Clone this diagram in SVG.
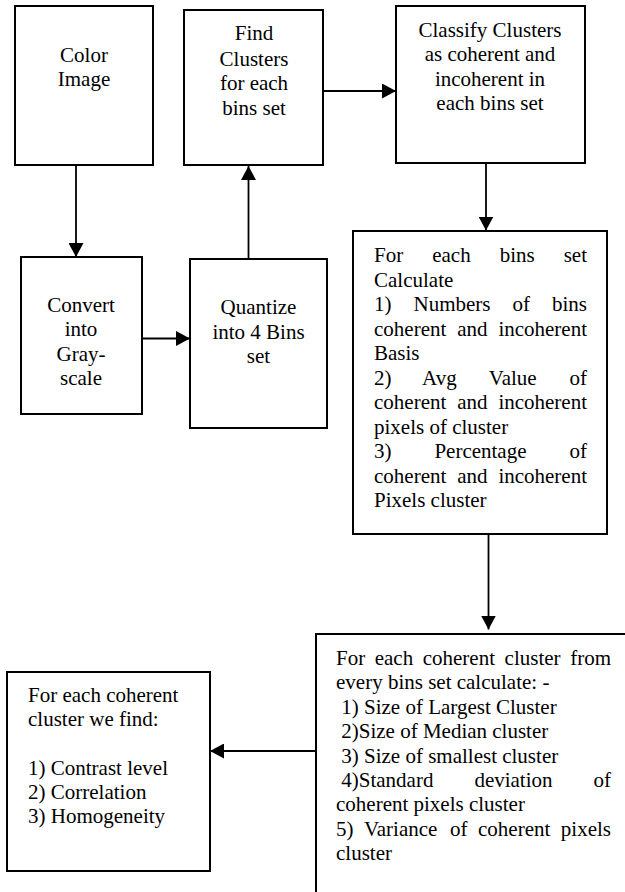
<svg xmlns="http://www.w3.org/2000/svg" width="625" height="892" viewBox="0 0 625 892">
<style>
.box{fill:#fff;stroke:#000;stroke-width:2}
.ln{fill:none;stroke:#000;stroke-width:1.8}
text{font-family:'Liberation Serif','Times New Roman',Times,Tinos,'Nimbus Roman','Nimbus Roman No9 L','Noto Serif','DejaVu Serif',FreeSerif,serif;font-size:21px;fill:#000}
.c{text-anchor:middle}
.e{text-anchor:end}
</style>
<defs>
<marker id="ah" markerWidth="14" markerHeight="15" refX="14" refY="7.5" orient="auto" markerUnits="userSpaceOnUse">
<path d="M0,0 L14,7.5 L0,15 Z" fill="#000"/>
</marker>
</defs>
<rect width="625" height="892" fill="#fff"/>

<g id="connectors">
<line class="ln" x1="76" y1="165" x2="76" y2="257" marker-end="url(#ah)"/>
<line class="ln" x1="142" y1="338.5" x2="190" y2="338.5" marker-end="url(#ah)"/>
<line class="ln" x1="248.5" y1="259" x2="248.5" y2="166" marker-end="url(#ah)"/>
<line class="ln" x1="323" y1="91" x2="396" y2="91" marker-end="url(#ah)"/>
<line class="ln" x1="486" y1="163" x2="486" y2="230.5" marker-end="url(#ah)"/>
<line class="ln" x1="488.5" y1="534" x2="488.5" y2="629.5" marker-end="url(#ah)"/>
<line class="ln" x1="316" y1="751" x2="210" y2="751" marker-end="url(#ah)"/>
</g>

<g id="color-image">
<rect class="box" x="15" y="6" width="138" height="159"/>
<text class="c" x="84" y="61.5">Color</text>
<text class="c" x="84" y="86">Image</text>
</g>

<g id="find-clusters">
<rect class="box" x="184" y="10" width="139" height="155"/>
<text class="c" x="254" y="40">Find</text>
<text class="c" x="254" y="65.5">Clusters</text>
<text class="c" x="254" y="90">for each</text>
<text class="c" x="254" y="114.5">bins set</text>
</g>

<g id="classify">
<rect class="box" x="396" y="6" width="189" height="157"/>
<text class="c" x="490" y="36.5">Classify Clusters</text>
<text class="c" x="490" y="61">as coherent and</text>
<text class="c" x="490" y="85.5">incoherent in</text>
<text class="c" x="490" y="110">each bins set</text>
</g>

<g id="convert">
<rect class="box" x="21" y="257" width="121" height="157"/>
<text class="c" x="81" y="311.5">Convert</text>
<text class="c" x="81" y="336">into</text>
<text class="c" x="81" y="360.5">Gray-</text>
<text class="c" x="81" y="385">scale</text>
</g>

<g id="quantize">
<rect class="box" x="190" y="259" width="137" height="169"/>
<text class="c" x="258.5" y="314">Quantize</text>
<text class="c" x="258.5" y="338.5">into 4 Bins</text>
<text class="c" x="258.5" y="363">set</text>
</g>

<g id="bins-calc">
<rect class="box" x="353" y="231" width="254" height="303"/>
<text x="374" y="262">For</text><text x="432.2" y="262">each</text><text x="499.7" y="262">bins</text><text class="e" x="587" y="262">set</text>
<text x="374" y="286.5">Calculate</text>
<text x="374" y="311">1)</text><text x="413.5" y="311">Numbers</text><text x="512.5" y="311">of</text><text class="e" x="587" y="311">bins</text>
<text x="374" y="335.5">coherent</text><text x="457.2" y="335.5">and</text><text class="e" x="587" y="335.5">incoherent</text>
<text x="374" y="360">Basis</text>
<text x="374" y="384.5">2)</text><text x="422.1" y="384.5">Avg</text><text x="488.8" y="384.5">Value</text><text class="e" x="587" y="384.5">of</text>
<text x="374" y="409">coherent</text><text x="457.2" y="409">and</text><text class="e" x="587" y="409">incoherent</text>
<text x="374" y="433.5">pixels of cluster</text>
<text x="374" y="458">3)</text><text x="434.4" y="458">Percentage</text><text class="e" x="587" y="458">of</text>
<text x="374" y="482.5">coherent</text><text x="457.2" y="482.5">and</text><text class="e" x="587" y="482.5">incoherent</text>
<text x="374" y="507">Pixels cluster</text>
</g>

<g id="coherent-calc">
<path class="box" d="M626,634 L316,634 L316,893"/>
<text x="336" y="665">For</text><text x="374.7" y="665">each</text><text x="422.7" y="665">coherent</text><text x="504.6" y="665">cluster</text><text class="e" x="611" y="665">from</text>
<text x="336" y="689.4">every bins set calculate: -</text>
<text x="341.25" y="713.8">1) Size of Largest Cluster</text>
<text x="341.25" y="738.2">2)Size of Median cluster</text>
<text x="341.25" y="762.6">3) Size of smallest cluster</text>
<text x="341.25" y="787">4)Standard</text><text x="474.4" y="787">deviation</text><text class="e" x="611" y="787">of</text>
<text x="336" y="811.4">coherent pixels cluster</text>
<text x="336" y="835.8">5)</text><text x="363.9" y="835.8">Variance</text><text x="450.1" y="835.8">of</text><text x="478" y="835.8">coherent</text><text class="e" x="611" y="835.8">pixels</text>
<text x="336" y="860.2">cluster</text>
</g>

<g id="texture-features">
<rect class="box" x="7" y="672" width="203" height="199"/>
<text x="28" y="702">For each coherent</text>
<text x="28" y="726">cluster we find:</text>
<text x="28" y="775">1) Contrast level</text>
<text x="28" y="799">2) Correlation</text>
<text x="28" y="823">3) Homogeneity</text>
</g>
</svg>
